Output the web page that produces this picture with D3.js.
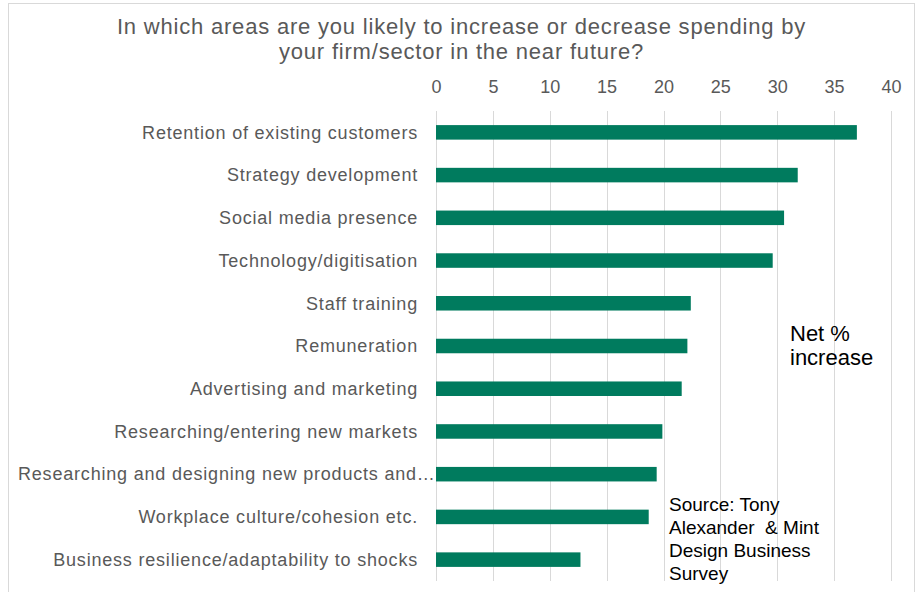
<!DOCTYPE html>
<html>
<head>
<meta charset="utf-8">
<script src="https://cdn.jsdelivr.net/npm/d3@7/dist/d3.min.js"></script>
<style>
  html, body { margin: 0; padding: 0; background: #ffffff; }
  svg { display: block; font-family: "Liberation Sans", Arial, sans-serif; }
</style>
</head>
<body>
<svg id="chart" width="920" height="592"></svg>
<script>
// Survey categories, top to bottom
const categories = [
  "Retention of existing customers",
  "Strategy development",
  "Social media presence",
  "Technology/digitisation",
  "Staff training",
  "Remuneration",
  "Advertising and marketing",
  "Researching/entering new markets",
  "Researching and designing new products and services",
  "Workplace culture/cohesion etc.",
  "Business resilience/adaptability to shocks"
];
// Net % of firms expecting to increase spending
const netIncrease = [37.0, 31.8, 30.6, 29.6, 22.4, 22.1, 21.6, 19.9, 19.4, 18.7, 12.7];
const xTicks = [0, 5, 10, 15, 20, 25, 30, 35, 40];
const titleLines = [
  "In which areas are you likely to increase or decrease spending by",
  "your firm/sector in the near future?"
];
const noteLines = ["Net %", "increase"];
const sourceLines = ["Source: Tony", "Alexander\u00a0 & Mint", "Design Business", "Survey"];

const svg = d3.select("#chart");
const W = 920, H = 592;
const margin = { top: 111, right: 29, bottom: 11, left: 436 };

const x = d3.scaleLinear().domain([0, 40]).range([margin.left, W - margin.right]);
const y = d3.scaleBand().domain(categories).range([margin.top, H - margin.bottom]).paddingInner(0.66).paddingOuter(0.33);

// chart frame
svg.append("rect")
  .attr("x", 8.5).attr("y", 3.5).attr("width", 906).attr("height", 600)
  .attr("fill", "#fff").attr("stroke", "#d9d9d9").attr("stroke-width", 1);

// title
svg.append("g").selectAll("text").data(titleLines).join("text")
  .attr("x", 461.5).attr("y", (d, i) => 34 + i * 25)
  .attr("text-anchor", "middle")
  .attr("fill", "#595959").attr("font-size", 22)
  .attr("letter-spacing", 0.8)
  .text(d => d);

// vertical gridlines
svg.append("g").selectAll("line").data(xTicks).join("line")
  .attr("x1", d => Math.round(x(d)) + 0.5).attr("x2", d => Math.round(x(d)) + 0.5)
  .attr("y1", margin.top).attr("y2", H - margin.bottom)
  .attr("stroke", "#d9d9d9").attr("stroke-width", 1);

// top axis labels
const xAxis = d3.axisTop(x).tickValues(xTicks).tickSize(0).tickPadding(0);
const gx = svg.append("g").attr("transform", "translate(0,93)").call(xAxis);
gx.select(".domain").remove();
gx.selectAll("text").attr("fill", "#595959").attr("font-size", 18).attr("font-family", "Liberation Sans, Arial, sans-serif");

// category labels, truncated with an ellipsis when too long
const labelRight = margin.left - 18;
const labelLeft = 18;
const labels = svg.append("g").selectAll("text").data(categories).join("text")
  .attr("x", labelRight)
  .attr("y", d => y(d) + y.bandwidth() / 2)
  .attr("dy", "0.35em")
  .attr("text-anchor", "end")
  .attr("fill", "#595959").attr("font-size", 18)
  .attr("letter-spacing", 0.8)
  .text(d => d);
labels.each(function(d) {
  const el = d3.select(this);
  if (this.getComputedTextLength() > labelRight - labelLeft) {
    let s = d;
    while (s.length > 0) {
      s = s.slice(0, -1).replace(/\s+$/, "");
      el.text(s + "\u2026");
      if (this.getComputedTextLength() <= margin.left - labelLeft + 1) break;
    }
    el.attr("text-anchor", "start").attr("x", labelLeft);
  }
});

// bars
svg.append("g").selectAll("rect").data(netIncrease).join("rect")
  .attr("x", x(0))
  .attr("y", (d, i) => y(categories[i]))
  .attr("width", d => x(d) - x(0))
  .attr("height", y.bandwidth())
  .attr("fill", "#007b5e");

// in-plot notes
svg.append("g").selectAll("text").data(noteLines).join("text")
  .attr("x", 790).attr("y", (d, i) => 341 + i * 24)
  .attr("fill", "#000").attr("font-size", 22)
  .text(d => d);

svg.append("g").selectAll("text").data(sourceLines).join("text")
  .attr("x", 669).attr("y", (d, i) => 511 + i * 23)
  .attr("fill", "#000").attr("font-size", 19)
  .text(d => d);
</script>
</body>
</html>
